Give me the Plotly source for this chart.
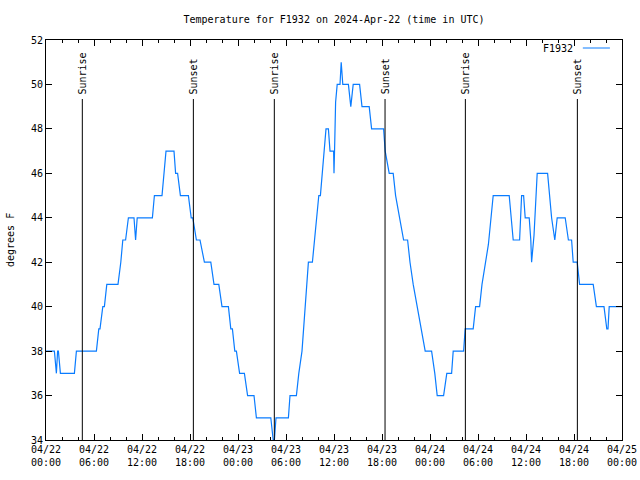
import pandas as pd
import plotly.graph_objects as go

# ---- data (hours after 2024-04-22 00:00 UTC, temperature in F) ----
hours = [0.0, 1.05, 1.3, 1.45, 1.55, 1.8, 3.55, 3.8, 6.3, 6.6, 6.75, 7.1, 7.3, 7.6,
         9.0, 9.35, 9.6, 9.95, 10.3, 11.0, 11.2, 11.4, 13.3, 13.55, 14.5, 15.0,
         16.0, 16.2, 16.45, 16.8, 17.8, 18.15, 18.35, 18.8, 19.25, 19.8, 20.6, 21.0,
         21.6, 22.0, 22.8, 23.1, 23.3, 23.6, 23.8, 24.2, 24.8, 25.2, 26.0, 26.3,
         28.1, 28.4, 28.55, 28.75, 30.3, 30.5, 31.3, 31.6, 32.0, 32.4, 32.8, 33.3,
         34.1, 34.3, 35.0, 35.3, 35.5, 35.95, 36.0, 36.1, 36.2, 36.4, 36.75, 36.9,
         37.0, 37.1, 37.8, 38.1, 38.4, 39.2, 39.5, 40.4, 40.7, 42.2, 42.4, 42.9,
         43.4, 43.7, 44.2, 44.7, 45.2, 45.5, 45.9, 46.4, 46.9, 47.4, 48.2, 48.6,
         48.9, 49.7, 50.1, 50.7, 50.9, 52.2, 52.4, 53.4, 53.7, 54.2, 54.5, 54.9,
         55.3, 55.9, 57.9, 58.4, 59.2, 59.45, 59.7, 59.9, 60.4, 60.6, 60.7, 61.0,
         61.4, 62.7, 63.2, 63.6, 63.9, 64.9, 65.3, 65.7, 65.9, 66.4, 66.7, 68.4,
         68.8, 69.75, 70.1, 70.25, 70.4, 72.0]
temps = [38, 38, 37, 38, 38, 37, 37, 38, 38, 39, 39, 40, 40, 41,
         41, 42, 43, 43, 44, 44, 43, 44, 44, 45, 45, 47,
         47, 46, 46, 45, 45, 44, 44, 43, 43, 42, 42, 41,
         41, 40, 40, 39, 39, 38, 38, 37, 37, 36, 36, 35,
         35, 34, 34, 35, 35, 36, 36, 37, 38, 40, 42, 42,
         45, 45, 48, 48, 47, 47, 46, 47.5, 49.2, 50, 50, 51,
         50.3, 50, 50, 49, 50, 50, 49, 49, 48, 48, 47, 46,
         46, 45, 44, 43, 43, 42, 41, 40, 39, 38, 38, 37,
         36, 36, 37, 37, 38, 38, 39, 39, 40, 40, 41, 42,
         42.8, 45, 45, 43, 43, 45, 45, 44, 44, 43, 42, 43.2,
         46, 46, 44, 43, 44, 44, 43, 43, 42, 42, 41, 41,
         40, 40, 39, 39, 40, 40]

sun_hours = [4.54, 18.42, 28.54, 42.38, 52.42, 66.42]
sun_labels = ["Sunrise", "Sunset", "Sunrise", "Sunset", "Sunrise", "Sunset"]

series_name = "F1932"
title_text = "Temperature for F1932 on 2024-Apr-22 (time in UTC)"
y_title = "degrees F"
y_range = [34, 52]

base = pd.Timestamp("2024-04-22 00:00")
times = [base + pd.Timedelta(hours=h) for h in hours]
sun_times = [base + pd.Timedelta(hours=h) for h in sun_hours]

FONT = "DejaVu Sans Mono"
COLOR = "#0a7cff"

fig = go.Figure()
fig.add_trace(go.Scatter(x=times, y=temps, mode="lines", name=series_name,
                         line=dict(color=COLOR, width=1.2), showlegend=False))

shapes = []
annotations = []
for t, lab in zip(sun_times, sun_labels):
    shapes.append(dict(type="line", xref="x", yref="paper", x0=t, x1=t, y0=0, y1=0.8525,
                       line=dict(color="black", width=1)))
    annotations.append(dict(x=t, y=0.862, xref="x", yref="paper", text=lab, textangle=-90,
                            showarrow=False, xanchor="center", yanchor="bottom", borderpad=0,
                            font=dict(family=FONT, size=10, color="black")))

# legend (text then line sample, gnuplot style)
annotations.append(dict(x=0.918, y=0.98, xref="paper", yref="paper", text=series_name,
                        showarrow=False, xanchor="right", yanchor="middle",
                        font=dict(family=FONT, size=10, color="black")))
shapes.append(dict(type="line", xref="paper", yref="paper", x0=0.932, x1=0.979, y0=0.98, y1=0.98,
                   line=dict(color=COLOR, width=1)))

# y axis title
annotations.append(dict(x=-0.0625, y=0.5, xref="paper", yref="paper", text=y_title, textangle=-90,
                        showarrow=False, xanchor="center", yanchor="middle",
                        font=dict(family=FONT, size=10, color="black")))

fig.update_layout(
    width=640, height=480,
    margin=dict(l=46, r=18, t=40, b=40, autoexpand=False),
    paper_bgcolor="white", plot_bgcolor="white",
    font=dict(family=FONT, size=10, color="black"),
    title=dict(text=title_text, x=0.5, xanchor="center", xref="paper", y=0.96, yanchor="middle",
               yref="container", font=dict(family=FONT, size=10, color="black")),
    shapes=shapes, annotations=annotations,
    xaxis=dict(range=[base, base + pd.Timedelta(hours=72)], type="date", automargin=False,
               dtick=6 * 3600 * 1000, tick0=base, tickformat="%m/%d<br>%H:%M",
               ticks="inside", ticklen=6, tickcolor="black", showline=True, linecolor="black",
               linewidth=1, mirror="ticks", showgrid=False, zeroline=False,
               tickfont=dict(family=FONT, size=10),
               minor=dict(dtick=2 * 3600 * 1000, ticks="inside", ticklen=3, tickcolor="black",
                          showgrid=False)),
    yaxis=dict(range=y_range, dtick=2, ticks="inside", ticklen=6, tickcolor="black",
               automargin=False, showline=True, linecolor="black", linewidth=1, mirror="ticks",
               showgrid=False, zeroline=False, tickfont=dict(family=FONT, size=10)),
)

fig.write_html("out.html", config={"displayModeBar": False},
               post_script="document.body.style.margin='0';")
